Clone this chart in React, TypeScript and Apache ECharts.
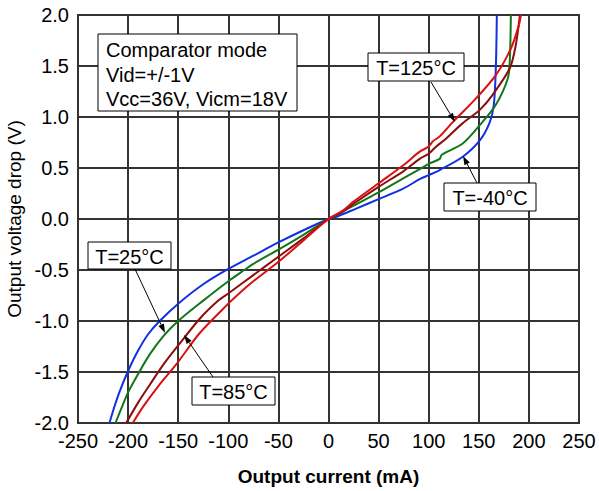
import React, { useEffect, useRef } from "react";
import * as echarts from "echarts";

const xTicks = [-250, -200, -150, -100, -50, 0, 50, 100, 150, 200, 250];
const yTicks = [-2.0, -1.5, -1.0, -0.5, 0.0, 0.5, 1.0, 1.5, 2.0];

const seriesNames = ["T=-40°C", "T=25°C", "T=85°C", "T=125°C"];
const seriesColors = ["#1330e0", "#12771a", "#8e0c0c", "#da1010"];

const tm40: number[][] = [
  [-218.6, -2.0], [-214, -1.85], [-208, -1.68], [-200, -1.49], [-190, -1.29],
  [-180, -1.13], [-168.5, -1.0], [-150, -0.83], [-125, -0.64], [-100, -0.49],
  [-75, -0.36], [-50, -0.23], [-25, -0.11], [0, 0], [10, 0.03], [27, 0.1],
  [50, 0.195], [75, 0.3], [91, 0.39], [100, 0.43], [111, 0.48], [134, 0.61],
  [151, 0.77], [161, 0.95], [165, 1.12], [167, 1.48], [168, 2.0],
];
const t25: number[][] = [
  [-212.6, -2.0], [-206, -1.84], [-200, -1.7], [-190, -1.52], [-178.6, -1.33],
  [-165, -1.15], [-150, -1.0], [-125, -0.8], [-100, -0.61], [-84, -0.5],
  [-75, -0.44], [-50, -0.3], [-25, -0.155], [0, 0], [25, 0.13], [50, 0.26],
  [75, 0.4], [91, 0.49], [100, 0.54], [111, 0.59], [113, 0.63], [134, 0.74],
  [151, 0.92], [167, 1.12], [179, 1.38], [181, 1.57], [182, 2.0],
];
const t85: number[][] = [
  [-201.9, -2.0], [-190, -1.8], [-178, -1.62], [-165, -1.43], [-150, -1.24],
  [-128.7, -0.98], [-110, -0.8], [-100, -0.73], [-75, -0.55], [-50, -0.37],
  [-25, -0.19], [0, 0], [14, 0.07], [25, 0.15], [50, 0.315], [75, 0.47],
  [91, 0.59], [100, 0.64], [107.5, 0.71], [117.5, 0.79], [134, 0.94],
  [151, 1.07], [164, 1.22], [181, 1.48], [187, 1.71], [191, 2.0],
];
const t125: number[][] = [
  [-195.3, -2.0], [-185, -1.84], [-170, -1.64], [-150, -1.4], [-128.7, -1.12],
  [-100, -0.83], [-87, -0.71], [-75, -0.61], [-50, -0.42], [-25, -0.21], [0, 0],
  [14, 0.08], [25, 0.17], [50, 0.35], [75, 0.53], [91, 0.66], [100, 0.71],
  [104, 0.76], [111, 0.81], [124, 0.95], [147, 1.18], [167, 1.41], [182, 1.67],
  [190, 1.9], [192, 2.0],
];
const seriesData = [tm40, t25, t85, t125];

const infoLines = ["Comparator mode", "Vid=+/-1V", "Vcc=36V, Vicm=18V"];

const FONT = "'Liberation Sans', Arial, sans-serif";

function labelBox(x: number, y: number, w: number, h: number, text: string) {
  return [
    {
      type: "rect",
      shape: { x, y, width: w, height: h },
      style: { fill: "#fff", stroke: "#000", lineWidth: 1 },
      z: 100,
    },
    {
      type: "text",
      x: x + w / 2,
      y: y + h / 2 + 1,
      style: {
        text,
        fill: "#000",
        font: `20px ${FONT}`,
        textAlign: "center",
        textVerticalAlign: "middle",
      },
      z: 101,
    },
  ];
}

function arrow(x1: number, y1: number, x2: number, y2: number) {
  const ang = Math.atan2(y2 - y1, x2 - x1);
  const len = 9;
  const wid = 3;
  const bx = x2 - len * Math.cos(ang);
  const by = y2 - len * Math.sin(ang);
  const px = -Math.sin(ang) * wid;
  const py = Math.cos(ang) * wid;
  return [
    {
      type: "line",
      shape: { x1, y1, x2: bx, y2: by },
      style: { stroke: "#000", lineWidth: 1 },
      z: 100,
    },
    {
      type: "polygon",
      shape: { points: [[x2, y2], [bx + px, by + py], [bx - px, by - py]] },
      style: { fill: "#000" },
      z: 100,
    },
  ];
}

export default function App() {
  const ref = useRef<HTMLDivElement>(null);
  useEffect(() => {
    if (!ref.current) return;
    const chart = echarts.init(ref.current, null, { renderer: "svg" });
    const graphics: any[] = [
      {
        type: "rect",
        shape: { x: 98, y: 34, width: 199, height: 77 },
        style: { fill: "#fff", stroke: "#000", lineWidth: 1 },
        z: 100,
      },
      ...infoLines.map((t, i) => ({
        type: "text",
        x: 106,
        y: 50 + i * 24.5,
        style: {
          text: t,
          fill: "#000",
          font: `20px ${FONT}`,
          textVerticalAlign: "middle",
        },
        z: 101,
      })),
      ...labelBox(368, 53, 96, 28, "T=125°C"),
      ...arrow(431, 82, 455, 122),
      ...labelBox(444, 183, 92, 28, "T=-40°C"),
      ...arrow(477, 183, 463, 156),
      ...labelBox(88, 242, 83, 27, "T=25°C"),
      ...arrow(135, 269, 165, 333),
      ...labelBox(192, 377, 83, 28, "T=85°C"),
      ...arrow(213, 377, 184, 335),
    ];
    chart.setOption({
      animation: false,
      backgroundColor: "#fff",
      textStyle: { fontFamily: FONT },
      grid: {
        left: 78,
        top: 15,
        right: 20,
        bottom: 68,
        show: true,
        borderColor: "#333",
        borderWidth: 2,
        outerBoundsMode: "none",
        containLabel: false,
      },
      xAxis: {
        type: "value",
        min: xTicks[0],
        max: xTicks[xTicks.length - 1],
        interval: 50,
        name: "Output current (mA)",
        nameLocation: "middle",
        nameGap: 44,
        nameTextStyle: { fontSize: 19, fontWeight: "bold", color: "#000", fontFamily: FONT },
        axisLine: { show: true, lineStyle: { color: "#333", width: 2 } },
        axisTick: { show: false },
        axisLabel: { fontSize: 20, color: "#000", margin: 8, fontFamily: FONT },
        splitLine: { show: true, lineStyle: { color: "#333", width: 2 } },
      },
      yAxis: {
        type: "value",
        min: yTicks[0],
        max: yTicks[yTicks.length - 1],
        interval: 0.5,
        name: "Output voltage drop (V)",
        nameLocation: "middle",
        nameGap: 54,
        nameTextStyle: { fontSize: 19, color: "#000", fontFamily: FONT },
        axisLine: { show: true, lineStyle: { color: "#333", width: 2 } },
        axisTick: { show: false },
        axisLabel: {
          fontSize: 20,
          color: "#000",
          margin: 9,
          fontFamily: FONT,
          formatter: (v: number) => v.toFixed(1),
        },
        splitLine: { show: true, lineStyle: { color: "#333", width: 2 } },
      },
      series: seriesData.map((d, i) => ({
        name: seriesNames[i],
        type: "line",
        data: d,
        showSymbol: false,
        smooth: 0.3,
        lineStyle: { color: seriesColors[i], width: 2 },
        z: 10 + i,
      })),
      graphic: graphics,
    });
    return () => chart.dispose();
  }, []);
  return (
    <div
      ref={ref}
      style={{ position: "fixed", left: 0, top: 0, width: 599, height: 491 }}
    />
  );
}
